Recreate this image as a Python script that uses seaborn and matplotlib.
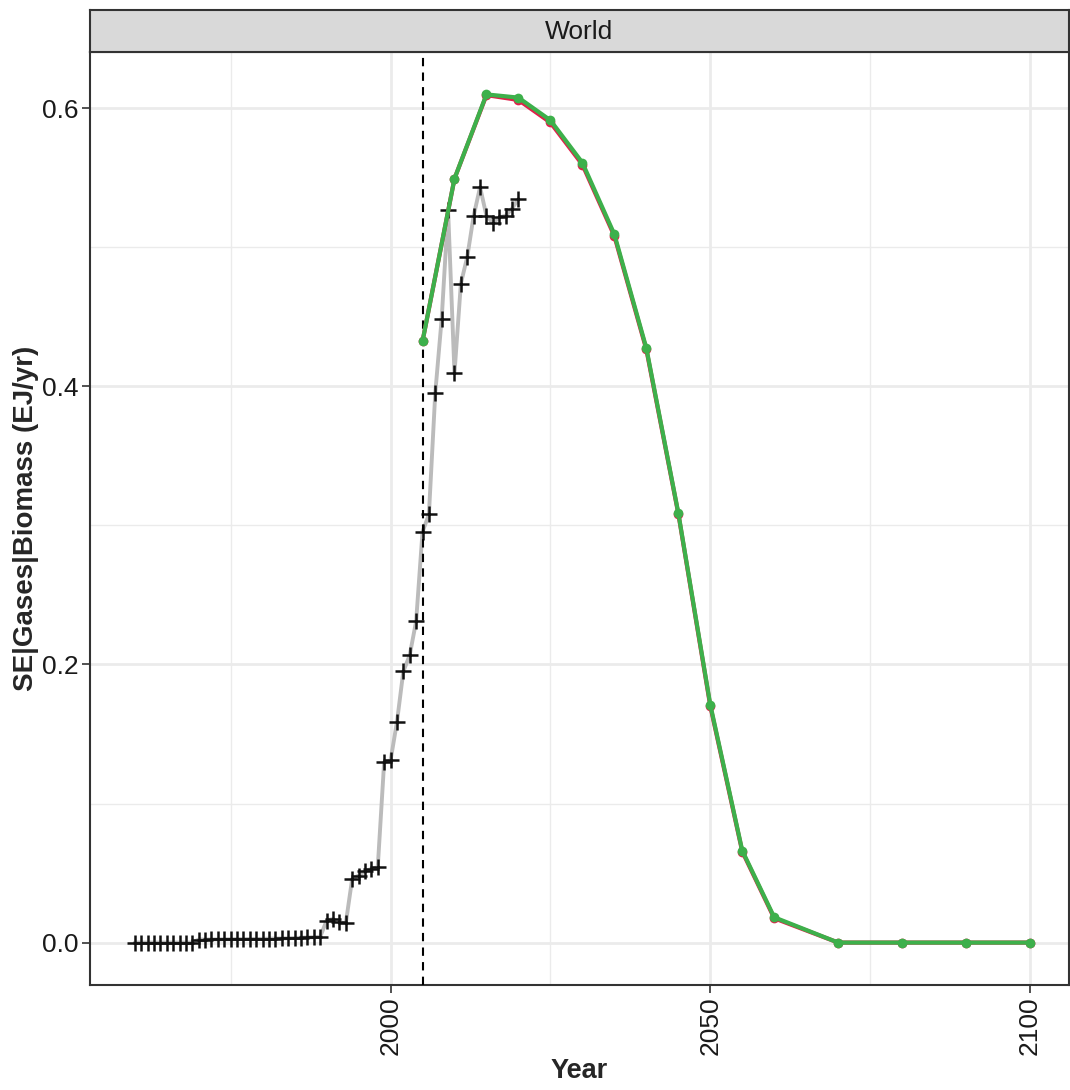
import matplotlib
matplotlib.use("Agg")
import matplotlib.pyplot as plt
import pandas as pd
import seaborn as sns

# historical series (grey line, + markers)
hist_years = list(range(1960, 2021))
hist_values = [
    0.0, 0.0, 0.0, 0.0, 0.0, 0.0, 0.0, 0.0, 0.0, 0.0,
    0.0022, 0.0022, 0.0023, 0.0023, 0.0024, 0.0024, 0.0025, 0.0025, 0.0026, 0.0026,
    0.0027, 0.0028, 0.0029, 0.0030, 0.0031, 0.0033, 0.0035, 0.0037, 0.0039, 0.0042,
    0.0158, 0.0170, 0.0146, 0.0139, 0.0458, 0.0482, 0.0513, 0.0530, 0.0542, 0.1297,
    0.1310, 0.1585, 0.1950, 0.2068, 0.2310, 0.2954, 0.3080, 0.3956, 0.4488, 0.5266,
    0.4097, 0.4740, 0.4932, 0.5227, 0.5433, 0.5227, 0.5176, 0.5215, 0.5227, 0.5279,
    0.5348,
]

# model runs
model_years = [2005, 2010, 2015, 2020, 2025, 2030, 2035, 2040, 2045, 2050,
               2055, 2060, 2070, 2080, 2090, 2100]
run_red = [0.4324, 0.5494, 0.6095, 0.6060, 0.5898, 0.5595, 0.5082, 0.4266,
           0.3085, 0.1702, 0.0655, 0.0175, 0.0, 0.0, 0.0, 0.0]
run_green = [0.4324, 0.5494, 0.6100, 0.6077, 0.5914, 0.5609, 0.5094, 0.4276,
             0.3091, 0.1712, 0.0662, 0.0182, 0.0, 0.0, 0.0, 0.0]

panel_label = "World"
x_label = "Year"
y_label = "SE|Gases|Biomass (EJ/yr)"
x_ticks = [2000, 2050, 2100]
y_ticks = [0.0, 0.2, 0.4, 0.6]
cutoff_year = 2005

sns.set_theme(style="white")
plt.rcParams["font.family"] = ["Liberation Sans", "DejaVu Sans"]

hist = pd.DataFrame({"year": hist_years, "value": hist_values})
model = pd.DataFrame({"year": model_years, "red": run_red, "green": run_green})

W, H = 1070, 1090
fig = plt.figure(figsize=(W / 100, H / 100), dpi=100)
left, right, top, bottom = 90, 1069, 52, 985
ax = fig.add_axes([left / W, 1 - bottom / H, (right - left) / W, (bottom - top) / H])
strip = fig.add_axes([left / W, 1 - top / H, (right - left) / W, 42 / H])

# grid
for v in [0.1, 0.3, 0.5]:
    ax.axhline(v, color="#EBEBEB", lw=1.0, zorder=0)
for v in [1975, 2025, 2075]:
    ax.axvline(v, color="#EBEBEB", lw=1.0, zorder=0)
for v in y_ticks:
    ax.axhline(v, color="#EBEBEB", lw=2.0, zorder=0)
for v in x_ticks:
    ax.axvline(v, color="#EBEBEB", lw=2.0, zorder=0)

sns.lineplot(data=hist, x="year", y="value", ax=ax, color="#BBBBBB", lw=2.8, zorder=2)
sns.scatterplot(data=hist, x="year", y="value", ax=ax, marker="+", color="#111111",
                s=140, linewidth=1.8, zorder=3)

ax.axvline(cutoff_year, color="black", lw=1.5, ls=(0, (4, 3)), zorder=4)

sns.lineplot(data=model, x="year", y="red", ax=ax, color="#E0204A", lw=3.0,
             marker="o", markersize=7, markeredgewidth=0, zorder=5)
sns.lineplot(data=model, x="year", y="green", ax=ax, color="#3DB04B", lw=3.0,
             marker="o", markersize=7, markeredgewidth=0, zorder=6)

ax.set_xlim(1953, 2106.1)
ax.set_ylim(-0.0305, 0.6405)
ax.set_xticks(x_ticks)
ax.set_yticks(y_ticks)
ax.set_yticklabels([f"{v:.1f}" for v in y_ticks])
ax.tick_params(axis="both", which="major", labelsize=19, color="#333333",
               length=6, width=1.2, labelcolor="#1A1A1A", pad=2, left=True, bottom=True)
ax.tick_params(axis="x", labelrotation=90)
ax.set_xlabel(x_label, fontsize=19.5, fontweight="bold", labelpad=2)
ax.set_ylabel(y_label, fontsize=20, fontweight="bold", labelpad=2)
for sp in ax.spines.values():
    sp.set_color("#333333")
    sp.set_linewidth(1.5)
ax.set_facecolor("white")

strip.set_facecolor("#D9D9D9")
strip.set_xticks([])
strip.set_yticks([])
for sp in strip.spines.values():
    sp.set_color("#333333")
    sp.set_linewidth(1.5)
strip.text(0.5, 0.48, panel_label, ha="center", va="center", fontsize=19,
           color="#1A1A1A", transform=strip.transAxes)

fig.savefig("out.png", dpi=100)
